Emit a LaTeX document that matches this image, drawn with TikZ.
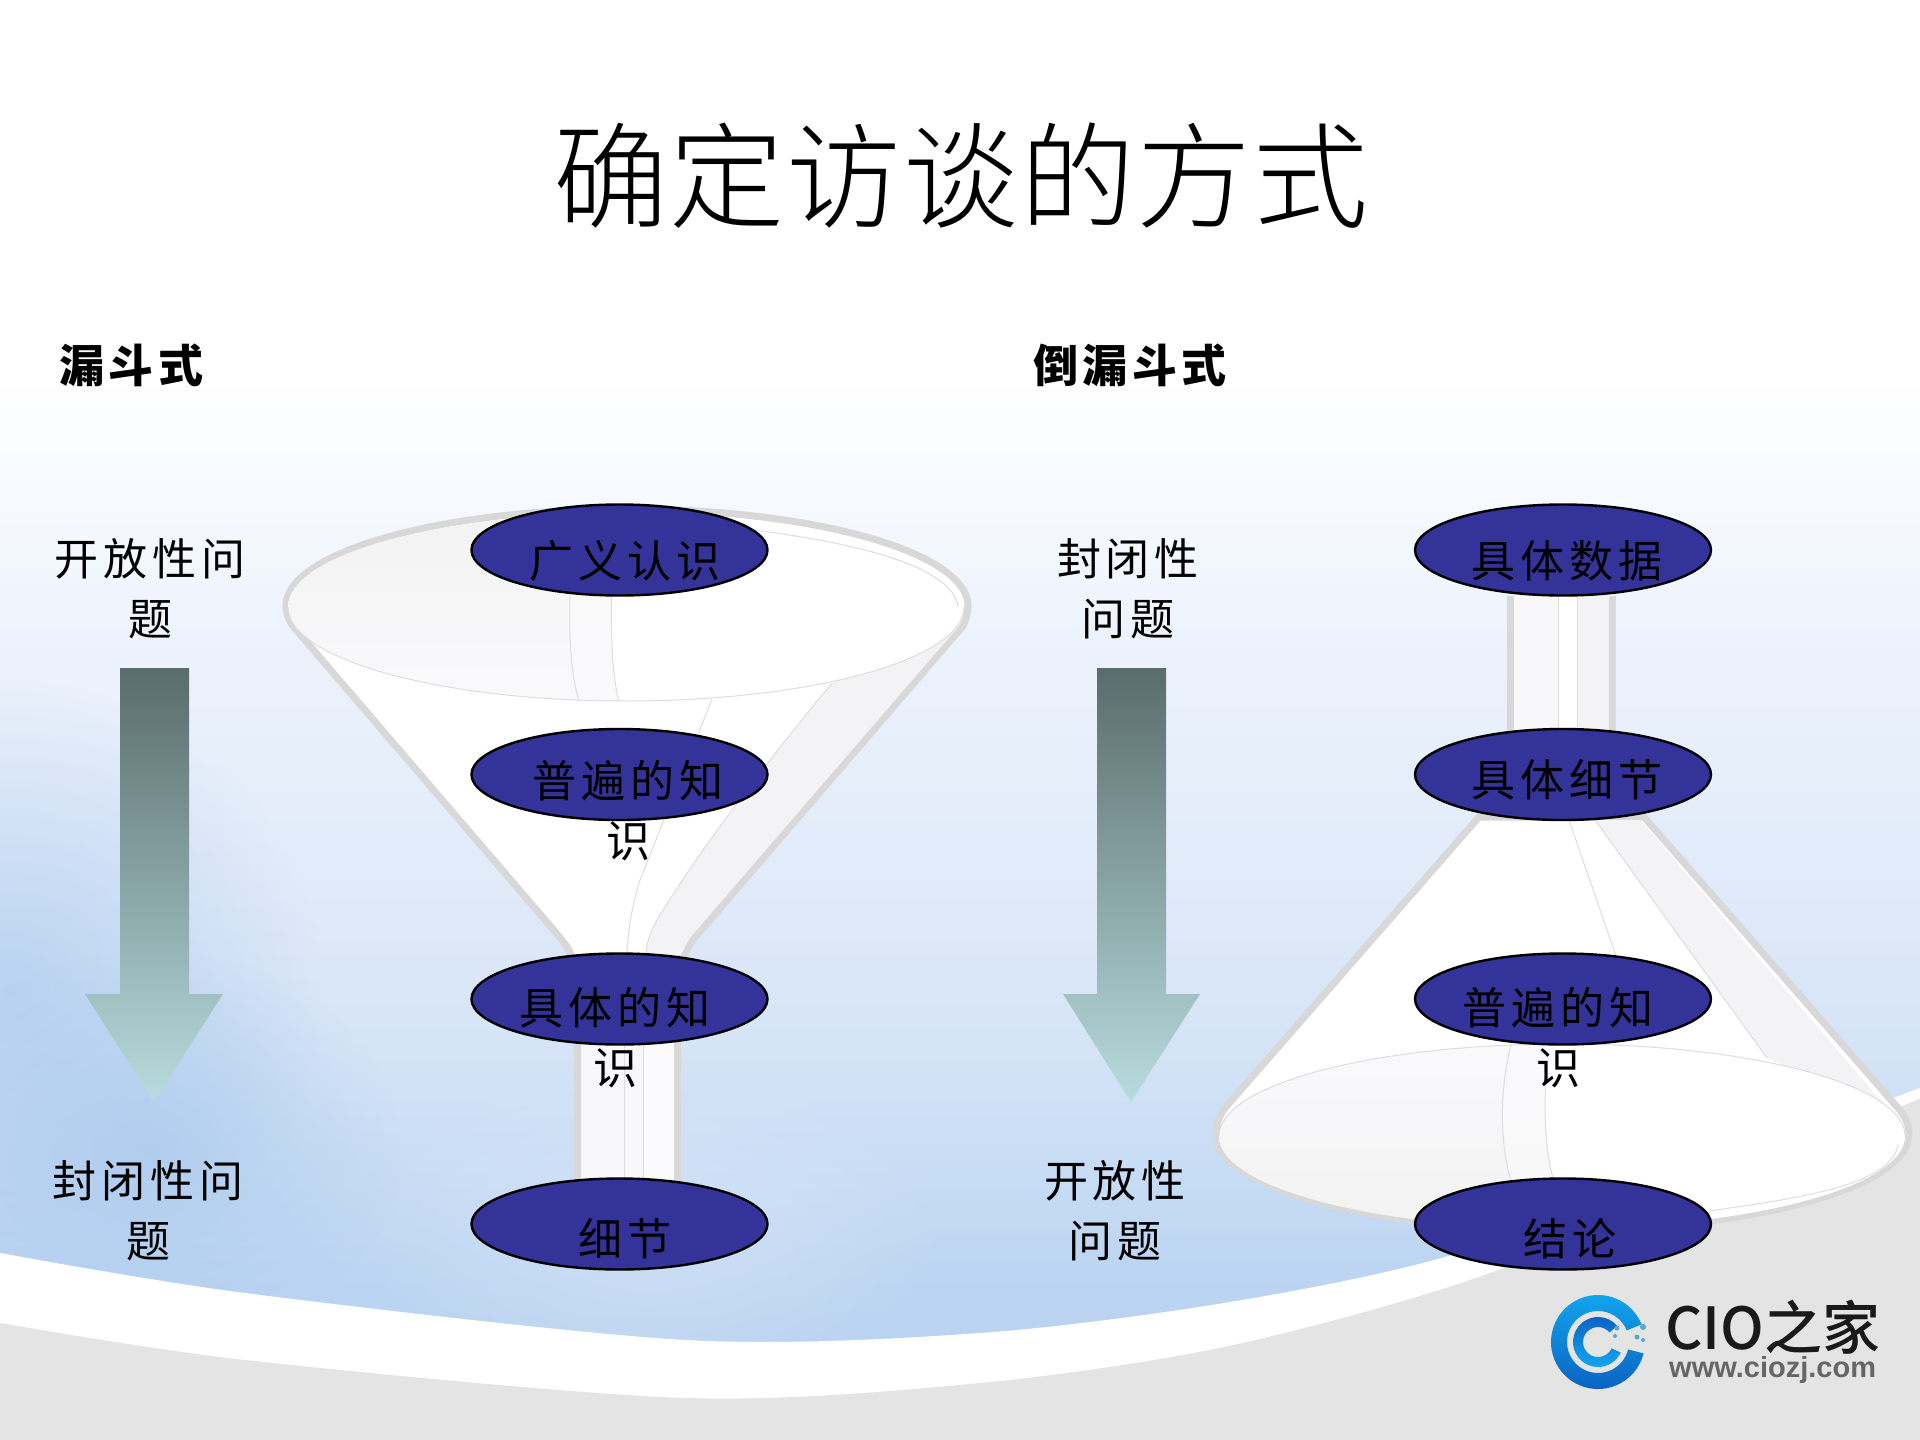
\documentclass[tikz,border=0pt]{standalone}
\usepackage{fontspec}
\usetikzlibrary{shapes.geometric,fadings,shadings}
\newfontfamily\cjktitle[LetterSpace=1.5]{Noto Sans CJK SC Light}
\newfontfamily\cjklabel[LetterSpace=11]{Noto Sans CJK SC}
\newfontfamily\cjkhead[LetterSpace=10]{Noto Sans CJK SC Black}
\newfontfamily\cjklogo{Noto Sans CJK SC Medium}
\setsansfont{Liberation Sans}
\definecolor{nodeblue}{HTML}{333399}
\definecolor{rimgray}{HTML}{D8D8D8}
\definecolor{thingray}{HTML}{DDDDDD}
\definecolor{stripgray}{HTML}{F3F3F5}
\definecolor{floorgray}{HTML}{E4E4E4}
\definecolor{arrowtop}{HTML}{5A6C6C}
\definecolor{arrowbot}{HTML}{B8DCDE}
\definecolor{bgA}{HTML}{B4CFEF}
\definecolor{bgB}{HTML}{BDD5F2}
\definecolor{bgC}{HTML}{D3E3F6}
\definecolor{bgD}{HTML}{E0EAF9}
\definecolor{bgE}{HTML}{EDF3FC}
\definecolor{bgF}{HTML}{F7FAFF}
\definecolor{blobblue}{HTML}{A8C8ED}
\definecolor{blobpale}{HTML}{D8E6F7}
\definecolor{logolight}{HTML}{12A8F0}
\definecolor{logodark}{HTML}{0A5FC0}
\definecolor{logodot}{HTML}{5AA8D0}
\definecolor{funtop}{HTML}{F2F2F2}
\definecolor{funbot}{HTML}{FAFAFD}
\definecolor{tubefill}{HTML}{F8F8FB}
\definecolor{tubelite}{HTML}{FBFBFE}
\pgfdeclareverticalshading{pagebg}{100bp}{
  color(0bp)=(bgA);
  color(25bp)=(bgA);
  color(31bp)=(bgB);
  color(38bp)=(bgC);
  color(44bp)=(bgD);
  color(53bp)=(bgE);
  color(58bp)=(bgF);
  color(62bp)=(white);
  color(100bp)=(white)}
\tikzfading[name=softblob,inner color=transparent!35,outer color=transparent!100]
\tikzset{
  x=1pt,y=-1pt,
  blob/.style={ellipse,draw=black,line width=2.4pt,fill=nodeblue,minimum width=296pt,minimum height=91pt,inner sep=0pt},
  lbl/.style={inner sep=0pt,align=center,font=\cjklabel\fontsize{44}{60}\selectfont},
  head/.style={inner sep=0pt,font=\cjkhead\fontsize{45}{50}\selectfont},
  rim/.style={draw=rimgray,line width=7pt,line join=round},
  thin rim/.style={draw=thingray,line width=1pt},
  downarrow/.style={top color=arrowtop,bottom color=arrowbot}
}
\begin{document}
\begin{tikzpicture}
\useasboundingbox (0,0) rectangle (1920,1440);
% page background
\shade[shading=pagebg] (0,0) rectangle (1920,1440);
\begin{scope}
\clip (0,0) rectangle (1920,1440);
\fill[blobblue,path fading=softblob] (-300,680) rectangle (320,1300);
\fill[blobblue,path fading=softblob] (-100,950) rectangle (400,1350);
\fill[blobpale,path fading=softblob] (350,1040) rectangle (950,1400);
\end{scope}
\fill[white] plot[smooth] coordinates {(-5,1252) (245,1293) (686,1340) (980,1333) (1224,1303) (1445,1257) (1714,1165) (1925,1086)} -- (1925,1445) -- (-5,1445) -- cycle;
\fill[floorgray] plot[smooth] coordinates {(-5,1322) (245,1360) (686,1398) (980,1383) (1224,1347) (1470,1280) (1714,1180) (1925,1097)} -- (1925,1445) -- (-5,1445) -- cycle;

% left funnel
\path[fill=white,rim] (286,606) .. controls (286,553) and (438,509) .. (627,509) .. controls (816,509) and (968,553) .. (968,606)
  .. controls (968,612) and (966,620) .. (963,626) -- (697,935) .. controls (690,943) and (686,950) .. (684,958) -- (572,958) .. controls (570,950) and (566,945) .. (558,935) -- (292,625) .. controls (288,618) and (286,612) .. (286,606) -- cycle;
\fill[stripgray] (832,683) .. controls (760,770) and (700,850) .. (660,915) .. controls (650,930) and (646,945) .. (646,955) -- (681,955) .. controls (684,948) and (688,940) .. (694,933) -- (959,626) -- cycle;
\draw[thin rim] (712,699) -- (640,880) .. controls (632,905) and (628,930) .. (627,953);
\draw[thin rim] (832,683) .. controls (760,770) and (700,850) .. (660,915) .. controls (650,930) and (646,945) .. (646,955);
\begin{scope}
\clip (626,607) ellipse [x radius=338,y radius=94];
\fill[white] (280,500) rectangle (980,710);
\shade[top color=funtop,bottom color=funbot] (280,505) -- (570,505) -- (570,596) .. controls (570,640) and (570,670) .. (579,705) -- (280,705) -- cycle;
\shade[top color=funtop!60!white,bottom color=funbot] (570,505) -- (611,505) -- (611,590) .. controls (611,630) and (612,670) .. (619,705) -- (579,705) .. controls (570,670) and (570,640) .. (570,590) -- cycle;
\end{scope}
\draw[thin rim] (288,607) .. controls (288,659) and (439,701) .. (626,701) .. controls (813,701) and (964,659) .. (964,607);
\draw[thin rim] (570,596) .. controls (569,640) and (571,675) .. (579,701);
\draw[thin rim] (611.5,596) .. controls (611,640) and (612,670) .. (618.5,701);
\draw[thin rim] (753,530) .. controls (850,542) and (953,565) .. (958,607);
% left tube
\fill[tubefill] (577,1040) rectangle (678,1180);
\fill[tubelite] (643,1040) rectangle (678,1180);
\draw[rimgray,line width=7pt] (577.5,1040) -- (577.5,1180) (677.5,1040) -- (677.5,1180);
\draw[thin rim] (624,1040) -- (624,1180) (643,1040) -- (643,1180);

% right funnel
\fill[tubefill] (1510,596) rectangle (1613,730);
\fill[stripgray] (1577,596) rectangle (1613,730);
\fill[white] (1558,596) rectangle (1577,730);
\draw[rimgray,line width=7pt] (1510.5,596) -- (1510.5,730) (1612.5,596) -- (1612.5,730);
\draw[thin rim] (1558,596) -- (1558,730) (1577,596) -- (1577,730);
\path[fill=white,rim] (1479,817) -- (1225,1108) .. controls (1219,1116) and (1216,1125) .. (1216,1134)
  .. controls (1216,1187) and (1370,1230) .. (1562,1230) .. controls (1754,1230) and (1909,1187) .. (1909,1134)
  .. controls (1909,1125) and (1905,1116) .. (1898,1108) -- (1644,817) -- cycle;
\fill[stripgray] (1595,820) -- (1767,1058) -- (1893,1115) -- (1640,820) -- cycle;
\draw[thin rim] (1569,820) -- (1616,956);
\draw[thin rim] (1595,820) -- (1767,1058);
\begin{scope}
\clip (1562,1136) ellipse [x radius=343,y radius=92];
\fill[white] (1210,1040) rectangle (1910,1232);
\shade[top color=funbot,bottom color=funtop] (1205,1040) -- (1511,1040) .. controls (1502,1090) and (1500,1140) .. (1511,1190) -- (1511,1232) -- (1205,1232) -- cycle;
\shade[top color=funbot,bottom color=funtop!60!white] (1511,1040) .. controls (1502,1090) and (1500,1140) .. (1511,1190) -- (1511,1232) -- (1553,1232) -- (1553,1190) .. controls (1546,1150) and (1545,1110) .. (1546,1040) -- cycle;
\end{scope}
\draw[thin rim] (1219,1136) .. controls (1219,1085) and (1372,1044) .. (1562,1044) .. controls (1752,1044) and (1905,1085) .. (1905,1136);
\draw[thin rim] (1511,1044) .. controls (1500,1090) and (1499,1140) .. (1511,1181);
\draw[thin rim] (1546,1081) .. controls (1544,1110) and (1545,1150) .. (1553,1178);
\draw[thin rim] (1709,1211) .. controls (1800,1198) and (1893,1185) .. (1898,1144);

% arrows
\shade[downarrow] (120,668) -- (189,668) -- (189,994) -- (223,994) -- (154,1102) -- (85,994) -- (120,994) -- cycle;
\shade[downarrow] (1097,668) -- (1166,668) -- (1166,994) -- (1200,994) -- (1131,1102) -- (1063,994) -- (1097,994) -- cycle;

% ellipses
\node[blob] (n1) at (619.5,550) {};
\node[blob] (n2) at (619.5,774.5) {};
\node[blob] (n3) at (619.5,999) {};
\node[blob] (n4) at (619.5,1224) {};
\node[blob] (m1) at (1563,550) {};
\node[blob] (m2) at (1563,774.5) {};
\node[blob] (m3) at (1563,999) {};
\node[blob] (m4) at (1563,1224) {};

% texts
\node[inner sep=0pt,font=\cjktitle\fontsize{115}{120}\selectfont] (title) at (961,176) {确定访谈的方式};
\node[head] (h1) at (131,365) {漏斗式};
\node[head] (h2) at (1130,365) {倒漏斗式};
\node[lbl] (a1) at (150,589) {开放性问\\题};
\node[lbl] (a2) at (148,1211) {封闭性问\\题};
\node[lbl] (b1) at (1128,589) {封闭性\\问题};
\node[lbl] (b2) at (1115,1211) {开放性\\问题};
\node[lbl] (t1) at (625,561) {广义认识};
\node[lbl] (t2) at (628,811) {普遍的知\\识};
\node[lbl] (t3) at (615,1038) {具体的知\\识};
\node[lbl] (t4) at (625,1239) {细节};
\node[lbl] (u1) at (1567,561) {具体数据};
\node[lbl] (u2) at (1567,780) {具体细节};
\node[lbl] (u3) at (1558,1038) {普遍的知\\识};
\node[lbl] (u4) at (1570,1239) {结论};

% logo
\begin{scope}[shift={(1598,1342)}]
\shade[top color=logolight,bottom color=logodark] (22:47pt) arc[start angle=22,end angle=346,radius=47pt] -- (346:31pt) arc[start angle=346,end angle=22,radius=31pt] -- cycle;
\shade[top color=logodark,bottom color=logolight] (40:25pt) arc[start angle=40,end angle=335,radius=25pt] -- (335:15pt) arc[start angle=335,end angle=40,radius=15pt] -- cycle;
\end{scope}
\fill[logodot] (1617,1328) circle (2.5) (1643,1327) circle (3) (1615,1336) circle (2) (1637,1337) circle (2.5) (1643,1340) circle (2);
\node[inner sep=0pt,anchor=west,text=black!90,font=\cjklogo\fontsize{58}{58}\selectfont] (logo1) at (1665,1327) {CIO之家};
\node[inner sep=0pt,anchor=west,text=black!60,font=\sffamily\bfseries\fontsize{29}{29}\selectfont] (logo2) at (1669,1370) {www.ciozj.com};
\end{tikzpicture}
\end{document}
